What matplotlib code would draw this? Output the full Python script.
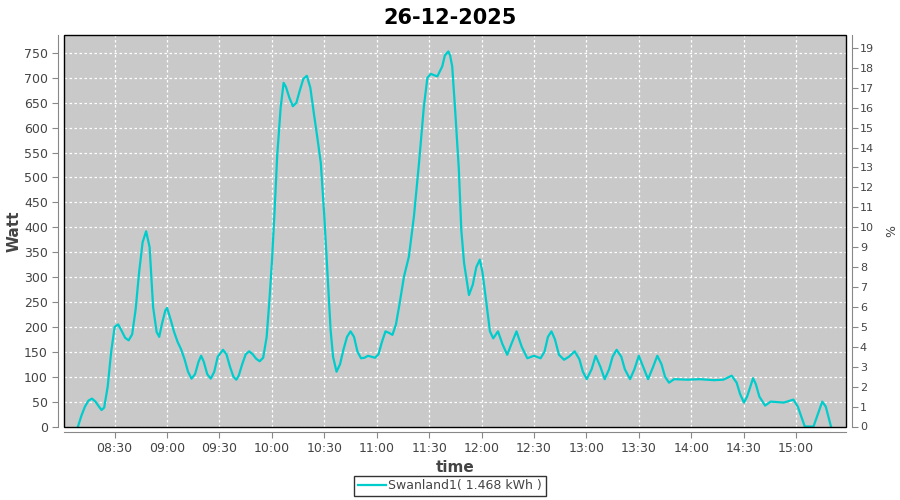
import matplotlib
matplotlib.use("Agg")
import matplotlib.pyplot as plt
from matplotlib.patches import Rectangle

title = "26-12-2025"
series_name = "Swanland1( 1.468 kWh )"
tick_minutes = [30, 60, 90, 120, 150, 180, 210, 240, 270, 300, 330, 360, 390, 420]
tick_labels = ["08:30", "09:00", "09:30", "10:00", "10:30", "11:00", "11:30",
               "12:00", "12:30", "13:00", "13:30", "14:00", "14:30", "15:00"]

# minutes after 08:00
minutes = [9, 11, 13, 15, 17, 19, 21, 22.5, 24, 26, 28, 30, 32, 34, 36, 38, 40, 42, 44, 46,
           48, 50, 51, 52, 54, 55.5, 57, 59, 60, 62, 64, 66, 68, 70, 72, 74, 76, 78, 79.5, 81,
           83, 85, 87, 89, 92, 94, 96, 98, 99.6, 101, 103, 105, 107, 109, 111, 113, 115, 117,
           118.5, 120, 121.5, 123, 125, 126.7, 128, 130, 132, 134, 136, 138, 140, 142, 144,
           146, 148, 150, 152, 153.6, 155, 157, 159, 161, 163, 165, 167, 169, 171, 173, 175,
           177, 179, 181, 183, 185, 187, 189, 191, 193, 195.6, 198.4, 201.3, 204.2, 207, 209,
           211, 213, 214.7, 217.5, 219, 221, 222, 223.2, 225, 227, 228.4, 230, 232.8, 235, 237,
           239, 240.5, 242.3, 244.8, 246.7, 249.4, 252, 254.7, 257, 260, 263, 266.2, 270,
           273.8, 276, 278, 280, 282, 284.3, 287.2, 290, 293.3, 296, 298, 300.2, 303, 305.3,
           308, 310.5, 313, 315, 317.3, 320, 322, 325, 327.5, 330, 332.5, 335.3, 338, 340.6,
           343, 345, 347.3, 350.2, 358, 365, 373, 378.4, 383.2, 386, 388, 390.2, 392, 395.4,
           397, 399, 402.3, 405.5, 413, 418.5, 421, 423, 425, 430, 432, 435, 437, 438.5, 440]
watt = [0, 22, 40, 52, 56, 50, 40, 33, 38, 80, 150, 200, 205, 192, 178, 173, 185, 235, 310, 370,
        392, 360, 300, 240, 190, 180, 205, 233, 238, 215, 190, 170, 155, 135, 110, 96, 105, 130,
        142, 130, 105, 96, 110, 140, 154, 145, 120, 100, 94, 102, 125, 145, 151, 145, 136, 131,
        138, 180, 250, 330, 430, 542, 640, 690, 682, 660, 643, 650, 675, 698, 704, 680, 629,
        580, 529, 422, 295, 194, 140, 110, 125, 155, 180, 191, 180, 150, 137, 138, 142, 140,
        138, 145, 170, 191, 188, 184, 205, 245, 301, 341, 422, 529, 643, 700, 708, 705, 703,
        723, 745, 753, 745, 723, 629, 516, 395, 328, 264, 285, 320, 335, 310, 261, 191, 177,
        191, 165, 144, 165, 191, 160, 137, 142, 137, 150, 180, 191, 175, 144, 134, 140, 151,
        135, 110, 95, 115, 142, 120, 95, 115, 140, 154, 140, 115, 95, 115, 142, 120, 95, 118,
        142, 125, 100, 88, 95, 94, 95, 93, 94, 102, 88, 65, 48, 60, 97, 85, 60, 42, 50, 48, 54,
        40, 20, 0, 0, 20, 50, 40, 20, 0]

W_MAX = 786
PCT_FACTOR = 40.0

text_col = "#444444"
axis_col = "#888888"

fig = plt.figure(figsize=(9, 5), dpi=100)
ax = fig.add_axes([64 / 900, 1 - 426.5 / 500, (846 - 64) / 900, (426.5 - 35) / 500])
ax.set_facecolor("#c9c9c9")
line, = ax.plot(minutes, watt, color="#00cccc", lw=1.6, label=series_name, zorder=3,
                clip_on=True)
ax.set_xlim(1, 448.6)
ax.set_ylim(0, W_MAX)
ax.set_yticks(range(0, 751, 50))
ax.set_xticks(tick_minutes)
ax.set_xticklabels(tick_labels)
ax.grid(True, color="white", linestyle=(0, (2, 2)), linewidth=0.9)
ax.set_axisbelow(True)

for s in ["top", "right"]:
    ax.spines[s].set_visible(False)
for s in ["left", "bottom"]:
    ax.spines[s].set_position(("outward", 4))
    ax.spines[s].set_color(axis_col)
ax.tick_params(colors=axis_col, labelcolor=text_col, labelsize=9, length=4, width=0.8)
ax.add_patch(Rectangle((0, 0), 1, 1, transform=ax.transAxes, fill=False,
                       edgecolor="black", lw=1.0, zorder=5, clip_on=False))

ax.set_ylabel("Watt", fontsize=11, color=text_col, fontweight="bold")
ax.yaxis.set_label_coords(-0.054, 0.5)
ax.set_xlabel("time", fontsize=11, color=text_col, fontweight="bold")
ax.xaxis.set_label_coords(0.5, -0.086)

ax2 = ax.twinx()
ax2.set_ylim(0, W_MAX / PCT_FACTOR)
ax2.set_yticks(range(0, 20))
for s in ["top", "left", "bottom"]:
    ax2.spines[s].set_visible(False)
ax2.spines["right"].set_position(("outward", 4))
ax2.spines["right"].set_color(axis_col)
ax2.tick_params(colors=axis_col, labelcolor=text_col, labelsize=8, length=4, width=0.8,
                pad=2)
ax2.set_ylabel("%", fontsize=9, color=text_col, rotation=-90, va="center")
ax2.yaxis.set_label_coords(1.054, 0.5)

fig.suptitle(title, fontsize=15, fontweight="bold", color="black", y=0.985)

leg = fig.legend(handles=[line], loc="lower center", bbox_to_anchor=(0.5, 0.0),
                 fontsize=9, frameon=True, fancybox=False, handlelength=2.2,
                 borderpad=0.3, handletextpad=0.2, borderaxespad=0.3)
leg.get_frame().set_edgecolor("black")
leg.get_frame().set_linewidth(1.0)
for t in leg.get_texts():
    t.set_color(text_col)

fig.savefig("out.png", dpi=100)
